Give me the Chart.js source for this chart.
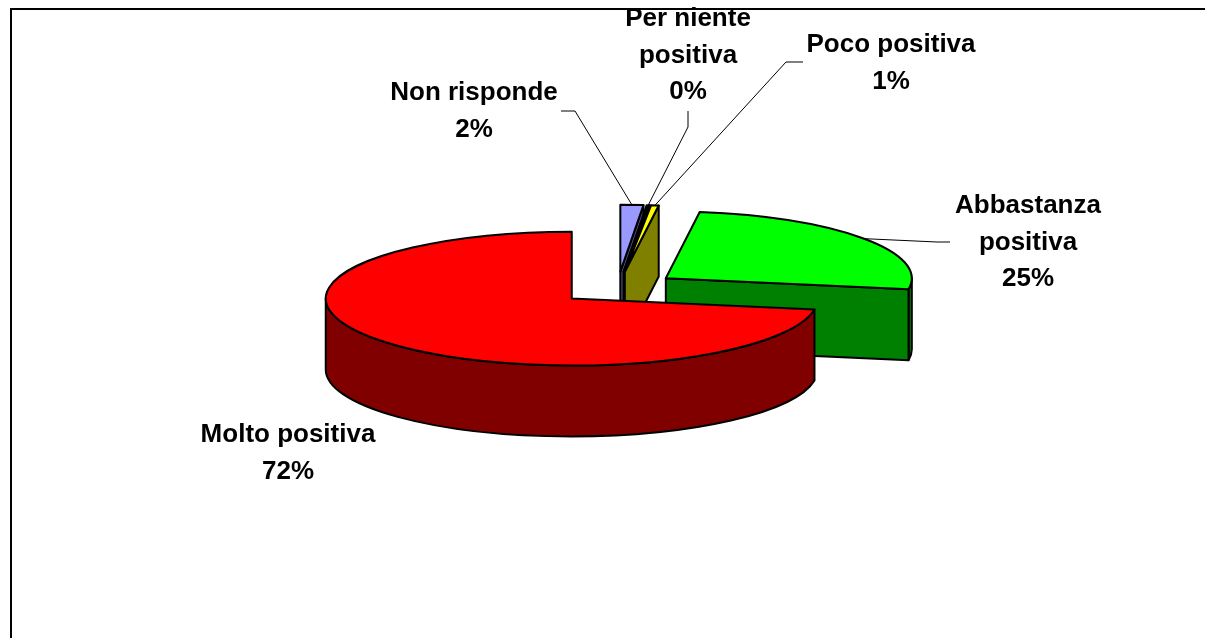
<!DOCTYPE html>
<html>
<head>
<meta charset="utf-8">
<title>Pie</title>
<script src="https://cdn.jsdelivr.net/npm/chart.js@4"></script>
<style>
  html, body { margin: 0; padding: 0; background: #fff; overflow: hidden; }
  canvas { display: block; }
</style>
</head>
<body>
<canvas id="myChart" width="1205" height="638"></canvas>
<script>
// DATA (clockwise from 12 o'clock, big slice last so it paints on top)
const categories = [["Non risponde"], ["Per niente", "positiva"], ["Poco positiva"], ["Abbastanza", "positiva"], ["Molto positiva"]];
const values = [1.5, 0.2, 0.5, 25.4, 72.4];

// COLORS
const topColors = ["#9999ff", "#000000", "#ffff00", "#00ff00", "#ff0000"];
const sideColors = ["#4d4d80", "#000000", "#808000", "#008000", "#800000"];

// LAYOUT
const tilt = 0.272;      // ellipse height / width
const depth = 71;        // height of the pie wall
const explode = 60;      // how far each slice moves from the center
const pieRadius = 246;
const fontSize = 26;
const lineStep = 36.5;
// center x, first line y, elbow points of the leader line
const labelSpots = [
  { x: 474, y: 93, elbow: [[561, 111], [575, 111]] },
  { x: 688, y: 19, elbow: [[688, 111], [688, 127]] },
  { x: 891, y: 45, elbow: [[803, 62], [786, 62]] },
  { x: 1028, y: 206, elbow: [[950, 242], [937, 242]] },
  { x: 288, y: 435, elbow: [] }
];

// slice position after exploding it, in screen pixels
function sliceCenter(arc) {
  const mid = (arc.startAngle + arc.endAngle) / 2;
  return {
    x: arc.x + Math.cos(mid) * explode,
    y: arc.y + Math.sin(mid) * explode * tilt
  };
}

function drawWalls(ctx, arc, index) {
  const c = sliceCenter(arc);
  const r = arc.outerRadius;
  ctx.fillStyle = sideColors[index];
  ctx.strokeStyle = "#000";
  ctx.lineWidth = 2;
  ctx.lineJoin = "round";

  // outer wall, only the part turned to the viewer
  const from = Math.max(arc.startAngle, 0);
  const to = Math.min(arc.endAngle, Math.PI);
  if (to > from) {
    ctx.beginPath();
    ctx.ellipse(c.x, c.y, r, r * tilt, 0, from, to);
    ctx.ellipse(c.x, c.y + depth, r, r * tilt, 0, to, from, true);
    ctx.closePath();
    ctx.fill();
    ctx.stroke();
  }

  // flat cut side at the end of the slice
  if (Math.cos(arc.endAngle) > 0.001) {
    const ex = c.x + Math.cos(arc.endAngle) * r;
    const ey = c.y + Math.sin(arc.endAngle) * r * tilt;
    ctx.beginPath();
    ctx.moveTo(c.x, c.y);
    ctx.lineTo(ex, ey);
    ctx.lineTo(ex, ey + depth);
    ctx.lineTo(c.x, c.y + depth);
    ctx.closePath();
    ctx.fill();
    ctx.stroke();
  }
}

function drawTop(ctx, arc) {
  const c = sliceCenter(arc);
  ctx.save();
  ctx.translate(c.x, c.y);
  ctx.scale(1, tilt);
  ctx.translate(-arc.x, -arc.y);
  arc.draw(ctx);
  ctx.restore();

  ctx.beginPath();
  ctx.moveTo(c.x, c.y);
  ctx.ellipse(c.x, c.y, arc.outerRadius, arc.outerRadius * tilt, 0, arc.startAngle, arc.endAngle);
  ctx.closePath();
  ctx.strokeStyle = "#000";
  ctx.lineWidth = 2;
  ctx.stroke();
}

const piePlugin = {
  id: "pie3d",
  beforeDraw(chart) {
    const ctx = chart.ctx;
    ctx.save();
    ctx.fillStyle = "#fff";
    ctx.fillRect(0, 0, chart.width, chart.height);
    // frame, the bottom and right sides are cut off in the picture
    ctx.strokeStyle = "#000";
    ctx.lineWidth = 2;
    ctx.beginPath();
    ctx.moveTo(11, chart.height);
    ctx.lineTo(11, 9);
    ctx.lineTo(chart.width, 9);
    ctx.stroke();
    ctx.restore();
  },
  beforeDatasetsDraw(chart) {
    const ctx = chart.ctx;
    const arcs = chart.getDatasetMeta(0).data;

    ctx.save();
    arcs.forEach((arc, i) => {
      drawWalls(ctx, arc, i);
      drawTop(ctx, arc);
    });

    // leader lines
    ctx.strokeStyle = "#000";
    ctx.lineWidth = 1;
    arcs.forEach((arc, i) => {
      const spot = labelSpots[i];
      if (!spot.elbow.length) return;
      const c = sliceCenter(arc);
      const mid = (arc.startAngle + arc.endAngle) / 2;
      ctx.beginPath();
      spot.elbow.forEach((p, k) => (k ? ctx.lineTo(p[0], p[1]) : ctx.moveTo(p[0], p[1])));
      ctx.lineTo(c.x + Math.cos(mid) * arc.outerRadius, c.y + Math.sin(mid) * arc.outerRadius * tilt);
      ctx.stroke();
    });

    // labels
    const total = values.reduce((a, b) => a + b, 0);
    ctx.fillStyle = "#000";
    ctx.font = "bold " + fontSize + "px 'Liberation Sans', Arial, sans-serif";
    ctx.textAlign = "center";
    ctx.textBaseline = "middle";
    categories.forEach((lines, i) => {
      const spot = labelSpots[i];
      const text = lines.concat(Math.round(values[i] / total * 100) + "%");
      text.forEach((line, k) => ctx.fillText(line, spot.x, spot.y + k * lineStep));
    });
    ctx.restore();
    return false; // everything is painted above, in 3D
  }
};

new Chart(document.getElementById("myChart"), {
  type: "pie",
  data: {
    labels: categories,
    datasets: [{
      data: values,
      backgroundColor: topColors,
      borderWidth: 0,
      radius: pieRadius
    }]
  },
  options: {
    responsive: false,
    animation: false,
    layout: { padding: { left: 30, bottom: 62 } },
    plugins: { legend: { display: false }, tooltip: { enabled: false } }
  },
  plugins: [piePlugin]
});
</script>
</body>
</html>
